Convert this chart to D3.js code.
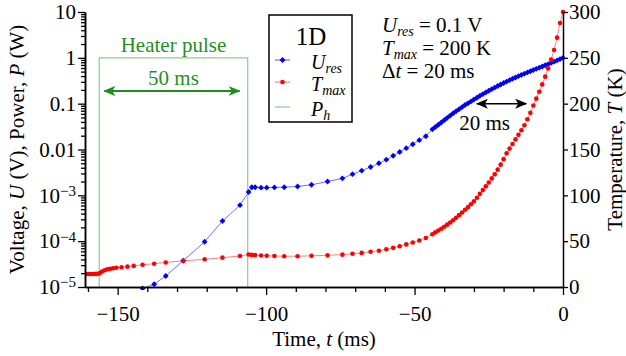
<!DOCTYPE html>
<html>
<head>
<meta charset="utf-8">
<script src="https://cdn.jsdelivr.net/npm/d3@7"></script>
<style>
  body { margin: 0; background: #fff; }
  svg { font-family: "Liberation Serif", "Times New Roman", serif; }
</style>
</head>
<body>
<svg id="chart" width="626" height="356"></svg>
<script>
// data (time in ms, U in V, T in K)
var timeMs = [-160.5, -159.7, -158.9, -158.1, -157.3, -156.5, -156.0, -155.3, -154.4, -153.5,
  -152.5, -151.5, -150.4, -148.7, -146.7, -144.6, -141.6, -137.7, -133.8, -127.9,
  -120.7, -114.7, -108.8, -105.9, -104.8, -103.7, -101.7, -99.8, -97.2, -93.9,
  -89.4, -84.7, -79.3, -74.3, -70.9, -67.8, -64.8, -62.0, -59.5, -57.2,
  -55.0, -52.8, -50.6, -48.4, -46.2,
  -44, -43, -42, -41, -40, -39, -38, -37, -36, -35, -34, -33, -32, -31, -30,
  -29, -28, -27, -26, -25, -24, -23, -22, -21, -20, -19, -18, -17, -16, -15,
  -14, -13, -12, -11, -10, -9, -8, -7, -6, -5, -4, -3, -2, -1, 0];

var uRes = [null, null, null, null, null, null, null, null, null, null,
  null, null, null, null, null, 6.0e-6, 9.3e-6, 1.15e-5, 1.74e-5, 3.75e-5,
  9.7e-5, 2.75e-4, 6.1e-4, 1.18e-3, 1.5e-3, 1.5e-3, 1.47e-3, 1.47e-3, 1.49e-3, 1.5e-3,
  1.56e-3, 1.7e-3, 2.0e-3, 2.35e-3, 2.9e-3, 3.45e-3, 4.15e-3, 5.0e-3, 6.0e-3, 7.3e-3,
  8.8e-3, 1.07e-2, 1.3e-2, 1.6e-2, 1.95e-2,
  0.0275, 0.0309, 0.0347, 0.0389, 0.0437, 0.0490, 0.0550, 0.0617, 0.0684, 0.0759,
  0.0841, 0.0933, 0.102, 0.112, 0.123, 0.135, 0.148, 0.162, 0.176, 0.191,
  0.207, 0.224, 0.243, 0.262, 0.282, 0.303, 0.326, 0.349, 0.373, 0.398,
  0.425, 0.452, 0.481, 0.510, 0.542, 0.575, 0.611, 0.649, 0.689, 0.731,
  0.776, 0.826, 0.879, 0.938, 1.0];

var tMax = [14.2, 14.2, 14.2, 14.2, 14.3, 14.4, 15.3, 16.8, 18.3, 19.2,
  19.9, 20.5, 21.0, 21.6, 22.2, 23.0, 24.2, 25.4, 26.8, 28.6,
  30.2, 32.0, 33.8, 35.5, 35.0, 34.8, 34.3, 34.1, 33.8, 33.6,
  33.6, 34.0, 34.6, 35.3, 36.2, 37.2, 38.4, 39.6, 41.2, 42.7,
  44.5, 46.5, 48.6, 50.8, 53.5,
  57.5, 59.6, 61.6, 63.6, 65.8, 68.0, 70.4, 72.8, 75.5, 78.4,
  81.3, 84.2, 87.1, 90.2, 93.5, 97.3, 101.6, 105.7, 109.8, 114.0,
  118.5, 123.0, 128.0, 133.5, 139.5, 145.8, 151.0, 156.0, 161.0, 166.0,
  171.0, 176.5, 183.0, 190.0, 198.0, 205.5, 213.0, 221.0, 229.5, 238.5,
  248.0, 258.5, 272.0, 288.0, 300.0];

// heater pulse: 1 W for 50 ms
var heaterOn = -156.2;
var heaterOff = -106.2;
var heaterPower = 1;

var voltTicks = [1e-5, 1e-4, 1e-3, 0.01, 0.1, 1, 10];
var tempTicks = [0, 50, 100, 150, 200, 250, 300];
var timeTicks = [-150, -100, -50, 0];
var timeMinor = [-160, -140, -130, -120, -110, -90, -80, -70, -60, -40, -30, -20, -10];

// delta-t annotation: U_res reaches 0.1 V, T_max reaches 200 K
var dtFrom = -29.0;
var dtTo = -12.4;
var dtLevel = 0.1;

var svg = d3.select("#chart");
var plotL = 85, plotR = 563, plotT = 12, plotB = 287;

var x = d3.scaleLinear().domain([-161, 0]).range([plotL, plotR]);
var yU = d3.scaleLog().domain([1e-5, 10]).range([plotB, plotT]);
var yT = d3.scaleLinear().domain([0, 300]).range([plotB, plotT]);

var rows = timeMs.map(function(t, i) { return {t: t, u: uRes[i], T: tMax[i]}; });

var defs = svg.append("defs");
defs.append("clipPath").attr("id", "plotclip")
  .append("rect")
  .attr("x", plotL).attr("y", plotT - 6)
  .attr("width", plotR - plotL + 2).attr("height", plotB - plotT + 9);

function arrowHead(id, color) {
  defs.append("marker")
    .attr("id", id)
    .attr("viewBox", "0 0 12 10")
    .attr("refX", 11).attr("refY", 5)
    .attr("markerWidth", 12).attr("markerHeight", 10)
    .attr("markerUnits", "userSpaceOnUse")
    .attr("orient", "auto-start-reverse")
    .append("path")
    .attr("d", "M0,0 L12,5 L0,10 L3,5 Z")
    .attr("fill", color);
}
arrowHead("arrGreen", "#1f8f1f");
arrowHead("arrBlack", "#000");

var font = "Liberation Serif";

// ---- heater pulse ----
var pulse = [[heaterOn, null], [heaterOn, heaterPower], [heaterOff, heaterPower], [heaterOff, null]];
svg.append("path")
  .attr("d", d3.line()
    .x(function(d) { return x(d[0]); })
    .y(function(d) { return d[1] == null ? yU.range()[0] : yU(d[1]); })(pulse))
  .attr("fill", "none")
  .attr("stroke", "#8ccf8c")
  .attr("stroke-width", 1.2);

svg.append("text")
  .attr("x", (x(heaterOn) + x(heaterOff)) / 2).attr("y", 52)
  .attr("text-anchor", "middle")
  .style("font-size", "21px").style("fill", "#1f8f1f")
  .text("Heater pulse");
svg.append("text")
  .attr("x", (x(heaterOn) + x(heaterOff)) / 2).attr("y", 85)
  .attr("text-anchor", "middle")
  .style("font-size", "21px").style("fill", "#1f8f1f")
  .text("50 ms");
svg.append("line")
  .attr("x1", x(heaterOn) + 5).attr("x2", x(heaterOff) - 8)
  .attr("y1", 91).attr("y2", 91)
  .attr("stroke", "#1f8f1f").attr("stroke-width", 2)
  .attr("marker-start", "url(#arrGreen)")
  .attr("marker-end", "url(#arrGreen)");

// ---- series ----
var plot = svg.append("g").attr("clip-path", "url(#plotclip)");

plot.append("path")
  .attr("d", d3.line()
    .defined(function(d) { return d.u != null; })
    .x(function(d) { return x(d.t); })
    .y(function(d) { return yU(d.u); })(rows))
  .attr("fill", "none").attr("stroke", "#7070ff").attr("stroke-width", 1);

plot.append("path")
  .attr("d", d3.line()
    .x(function(d) { return x(d.t); })
    .y(function(d) { return yT(d.T); })(rows))
  .attr("fill", "none").attr("stroke", "#ff8080").attr("stroke-width", 1);

var diamond = d3.symbol().type(d3.symbolDiamond2).size(22);

plot.selectAll(".ures")
  .data(rows.filter(function(d) { return d.u != null; }))
  .enter().append("path")
  .attr("class", "ures")
  .attr("transform", function(d) { return "translate(" + x(d.t) + "," + yU(d.u) + ")"; })
  .attr("d", diamond)
  .attr("fill", "#0000ff");

plot.selectAll(".tmax")
  .data(rows)
  .enter().append("circle")
  .attr("class", "tmax")
  .attr("cx", function(d) { return x(d.t); })
  .attr("cy", function(d) { return yT(d.T); })
  .attr("r", 2.3)
  .attr("fill", "#ff0000");

// ---- axes ----
function styleAxis(g) {
  g.select(".domain").attr("stroke", "#000").attr("stroke-width", 1.5);
  g.selectAll(".tick line").attr("stroke", "#000").attr("stroke-width", 1.3);
  g.selectAll(".tick text")
    .style("font-family", font).style("font-size", "21px").attr("fill", "#000");
}

var voltMinor = [];
voltTicks.slice(0, -1).forEach(function(d) {
  for (var k = 2; k < 10; k++) voltMinor.push(d * k);
});

svg.append("g")
  .attr("transform", "translate(" + plotL + ",0)")
  .call(d3.axisLeft(yU).tickValues(voltMinor).tickSize(4).tickSizeOuter(0).tickFormat(""))
  .call(styleAxis);

var yAxisG = svg.append("g")
  .attr("transform", "translate(" + plotL + ",0)")
  .call(d3.axisLeft(yU).tickValues(voltTicks).tickSize(7).tickSizeOuter(0).tickPadding(2)
    .tickFormat(function(d) { return d >= 0.01 ? String(+d.toPrecision(1)) : "10"; }))
  .call(styleAxis);

yAxisG.selectAll(".tick text").each(function(d) {
  if (d < 0.01) {
    d3.select(this).append("tspan")
      .attr("dy", "-0.45em")
      .style("font-size", "15px")
      .text("\u2212" + Math.round(-Math.log10(d)));
  }
});

svg.append("g")
  .attr("transform", "translate(" + plotR + ",0)")
  .call(d3.axisRight(yT).tickValues(tempTicks).tickSize(5).tickSizeOuter(0).tickPadding(1))
  .call(styleAxis);

svg.append("g")
  .attr("transform", "translate(0," + plotB + ")")
  .call(d3.axisBottom(x).tickValues(timeMinor).tickSize(5).tickSizeOuter(0).tickFormat(""))
  .call(styleAxis);

svg.append("g")
  .attr("transform", "translate(0," + plotB + ")")
  .call(d3.axisBottom(x).tickValues(timeTicks).tickSize(8).tickSizeOuter(0).tickPadding(11)
    .tickFormat(function(d) { return d === 0 ? "0" : "\u2212" + Math.abs(d); }))
  .call(styleAxis);

// ---- axis titles ----
var yTitle = svg.append("text")
  .attr("transform", "translate(24," + ((plotT + plotB) / 2) + ") rotate(-90)")
  .attr("text-anchor", "middle")
  .style("font-size", "21px");
yTitle.append("tspan").text("Voltage, ");
yTitle.append("tspan").style("font-style", "italic").text("U");
yTitle.append("tspan").text(" (V), Power, ");
yTitle.append("tspan").style("font-style", "italic").text("P");
yTitle.append("tspan").text(" (W)");

var tTitle = svg.append("text")
  .attr("transform", "translate(622," + ((plotT + plotB) / 2) + ") rotate(-90)")
  .attr("text-anchor", "middle")
  .style("font-size", "21px");
tTitle.append("tspan").text("Temperature, ");
tTitle.append("tspan").style("font-style", "italic").text("T");
tTitle.append("tspan").text(" (K)");

var xTitle = svg.append("text")
  .attr("x", 324).attr("y", 346)
  .attr("text-anchor", "middle")
  .style("font-size", "21px");
xTitle.append("tspan").text("Time, ");
xTitle.append("tspan").style("font-style", "italic").text("t");
xTitle.append("tspan").text(" (ms)");

// ---- delta t arrow ----
svg.append("line")
  .attr("x1", x(dtFrom)).attr("x2", x(dtTo))
  .attr("y1", yU(dtLevel)).attr("y2", yU(dtLevel))
  .attr("stroke", "#000").attr("stroke-width", 1.5)
  .attr("marker-start", "url(#arrBlack)")
  .attr("marker-end", "url(#arrBlack)");
svg.append("text")
  .attr("x", (x(dtFrom) + x(dtTo)) / 2 - 17).attr("y", 130)
  .attr("text-anchor", "middle")
  .style("font-size", "21px")
  .text("20 ms");

// ---- legend ----
var legend = svg.append("g");
legend.append("rect")
  .attr("x", 269).attr("y", 15).attr("width", 83).attr("height", 107)
  .attr("fill", "#fff").attr("stroke", "#000").attr("stroke-width", 1.5);
legend.append("text")
  .attr("x", 311).attr("y", 45)
  .attr("text-anchor", "middle")
  .style("font-size", "25px")
  .text("1D");

var legendItems = [
  {main: "U", sub: "res", color: "#0000ff", line: "#7070ff", mark: "diamond", y: 60},
  {main: "T", sub: "max", color: "#ff0000", line: "#ff8080", mark: "circle", y: 82},
  {main: "P", sub: "h", color: "#8ccf8c", line: "#8ccf8c", mark: "none", y: 107}
];
legendItems.forEach(function(d) {
  legend.append("line")
    .attr("x1", 275).attr("x2", 290).attr("y1", d.y).attr("y2", d.y)
    .attr("stroke", d.line).attr("stroke-width", 1.2);
  if (d.mark === "diamond") {
    legend.append("path")
      .attr("transform", "translate(282.5," + d.y + ")")
      .attr("d", diamond).attr("fill", d.color);
  } else if (d.mark === "circle") {
    legend.append("circle")
      .attr("cx", 282.5).attr("cy", d.y).attr("r", 2.3).attr("fill", d.color);
  }
  var t = legend.append("text")
    .attr("x", 311).attr("y", d.y + 9)
    .style("font-size", "20px").style("font-style", "italic");
  t.append("tspan").text(d.main);
  t.append("tspan").attr("dy", 4).style("font-size", "14px").text(d.sub);
});

// ---- parameters ----
var params = [
  {main: "U", sub: "res", rest: " = 0.1 V", y: 32},
  {main: "T", sub: "max", rest: " = 200 K", y: 55},
  {main: "\u0394", sub: "", it: "t", rest: " = 20 ms", y: 78}
];
params.forEach(function(d) {
  var t = svg.append("text")
    .attr("x", 382).attr("y", d.y)
    .style("font-size", "21px");
  if (d.it) {
    t.append("tspan").text(d.main);
    t.append("tspan").style("font-style", "italic").text(d.it);
    t.append("tspan").text(d.rest);
  } else {
    t.append("tspan").style("font-style", "italic").text(d.main);
    t.append("tspan").attr("dy", 4).style("font-size", "14px").style("font-style", "italic").text(d.sub);
    t.append("tspan").attr("dy", -4).text(d.rest);
  }
});
</script>
</body>
</html>
